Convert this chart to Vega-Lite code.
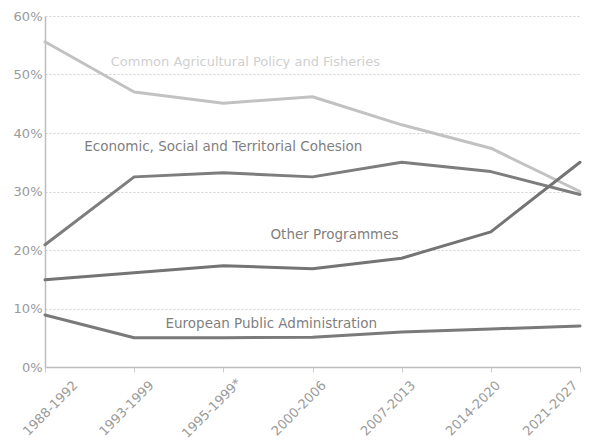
{
  "$schema": "https://vega.github.io/schema/vega-lite/v6.json",
  "width": 535,
  "height": 351,
  "autosize": {"type": "none"},
  "padding": {"left": 45, "top": 16, "right": 21, "bottom": 74},
  "background": "white",
  "config": {
    "view": {"stroke": null},
    "font": "DejaVu Sans"
  },
  "datasets": {
    "series": [
      {"period": "1988-1992", "series": "CAP", "value": 55.6},
      {"period": "1993-1999", "series": "CAP", "value": 47.0},
      {"period": "1995-1999*", "series": "CAP", "value": 45.1},
      {"period": "2000-2006", "series": "CAP", "value": 46.2},
      {"period": "2007-2013", "series": "CAP", "value": 41.4},
      {"period": "2014-2020", "series": "CAP", "value": 37.4},
      {"period": "2021-2027", "series": "CAP", "value": 30.0},
      {"period": "1988-1992", "series": "Cohesion", "value": 20.9},
      {"period": "1993-1999", "series": "Cohesion", "value": 32.5},
      {"period": "1995-1999*", "series": "Cohesion", "value": 33.2},
      {"period": "2000-2006", "series": "Cohesion", "value": 32.5},
      {"period": "2007-2013", "series": "Cohesion", "value": 35.0},
      {"period": "2014-2020", "series": "Cohesion", "value": 33.4},
      {"period": "2021-2027", "series": "Cohesion", "value": 29.5},
      {"period": "1988-1992", "series": "Other", "value": 14.9},
      {"period": "1993-1999", "series": "Other", "value": 16.1},
      {"period": "1995-1999*", "series": "Other", "value": 17.3},
      {"period": "2000-2006", "series": "Other", "value": 16.8},
      {"period": "2007-2013", "series": "Other", "value": 18.6},
      {"period": "2014-2020", "series": "Other", "value": 23.1},
      {"period": "2021-2027", "series": "Other", "value": 35.0},
      {"period": "1988-1992", "series": "Admin", "value": 8.9},
      {"period": "1993-1999", "series": "Admin", "value": 5.0},
      {"period": "1995-1999*", "series": "Admin", "value": 5.0},
      {"period": "2000-2006", "series": "Admin", "value": 5.1},
      {"period": "2007-2013", "series": "Admin", "value": 6.0},
      {"period": "2014-2020", "series": "Admin", "value": 6.5},
      {"period": "2021-2027", "series": "Admin", "value": 7.0}
    ],
    "labels": [
      {"period": "1995-1999*", "text": "Common Agricultural Policy and Fisheries", "value": 52.1},
      {"period": "1995-1999*", "text": "Economic, Social and Territorial Cohesion", "value": 37.6},
      {"period": "2000-2006", "text": "Other Programmes", "value": 22.6},
      {"period": "1995-1999*", "text": "European Public Administration", "value": 7.35}
    ]
  },
  "encoding": {
    "x": {
      "field": "period",
      "type": "ordinal",
      "sort": null,
      "scale": {"type": "point", "padding": 0, "domain": ["1988-1992", "1993-1999", "1995-1999*", "2000-2006", "2007-2013", "2014-2020", "2021-2027"]},
      "axis": {
        "title": null,
        "labelAngle": -45,
        "labelAlign": "center",
        "labelBaseline": "middle",
        "labelPadding": 36,
        "labelOffset": {
          "condition": [
            {"test": "datum.value === '1988-1992'", "value": 5},
            {"test": "datum.value === '1993-1999'", "value": -8},
            {"test": "datum.value === '1995-1999*'", "value": -12},
            {"test": "datum.value === '2000-2006'", "value": -14},
            {"test": "datum.value === '2007-2013'", "value": -14},
            {"test": "datum.value === '2014-2020'", "value": -18}
          ],
          "value": -30
        },
        "labelColor": "#9a9a9a",
        "labelFontSize": 13,
        "labelBound": false,
        "labelOverlap": false,
        "domainColor": "#bdbdbd",
        "domainWidth": 1.5,
        "tickColor": "#cccccc",
        "tickSize": 5,
        "grid": false
      }
    },
    "y": {
      "field": "value",
      "type": "quantitative",
      "scale": {"domain": [0, 60], "nice": false},
      "axis": {
        "title": null,
        "values": [0, 10, 20, 30, 40, 50, 60],
        "labelExpr": "datum.value + '%'",
        "labelColor": "#9a9a9a",
        "labelFontSize": 13,
        "labelPadding": 3,
        "ticks": false,
        "domainColor": "#bdbdbd",
        "domainWidth": 1.5,
        "grid": true,
        "gridColor": "#d0d0d0",
        "gridDash": [2, 2],
        "gridWidth": 1
      }
    }
  },
  "layer": [
    {
      "data": {"name": "series"},
      "mark": {"type": "line", "strokeWidth": 3, "strokeJoin": "round", "strokeCap": "round"},
      "encoding": {
        "color": {
          "field": "series",
          "type": "nominal",
          "scale": {"domain": ["CAP", "Cohesion", "Other", "Admin"], "range": ["#c2c2c2", "#7d7d7d", "#747474", "#7a7a7a"]},
          "legend": null
        }
      }
    },
    {
      "data": {"name": "labels"},
      "transform": [{"filter": "datum.text === 'Common Agricultural Policy and Fisheries'"}],
      "mark": {"type": "text", "fontSize": 13, "color": "#cfcfcf", "baseline": "middle", "align": "center", "dx": 22},
      "encoding": {"text": {"field": "text"}}
    },
    {
      "data": {"name": "labels"},
      "transform": [{"filter": "datum.text === 'Economic, Social and Territorial Cohesion'"}],
      "mark": {"type": "text", "fontSize": 13.5, "color": "#7f7f7f", "baseline": "middle", "align": "center", "dx": 0},
      "encoding": {"text": {"field": "text"}}
    },
    {
      "data": {"name": "labels"},
      "transform": [{"filter": "datum.text === 'Other Programmes'"}],
      "mark": {"type": "text", "fontSize": 13.5, "color": "#7f7f7f", "baseline": "middle", "align": "center", "dx": 22},
      "encoding": {"text": {"field": "text"}}
    },
    {
      "data": {"name": "labels"},
      "transform": [{"filter": "datum.text === 'European Public Administration'"}],
      "mark": {"type": "text", "fontSize": 13.5, "color": "#7f7f7f", "baseline": "middle", "align": "center", "dx": 48},
      "encoding": {"text": {"field": "text"}}
    }
  ]
}
